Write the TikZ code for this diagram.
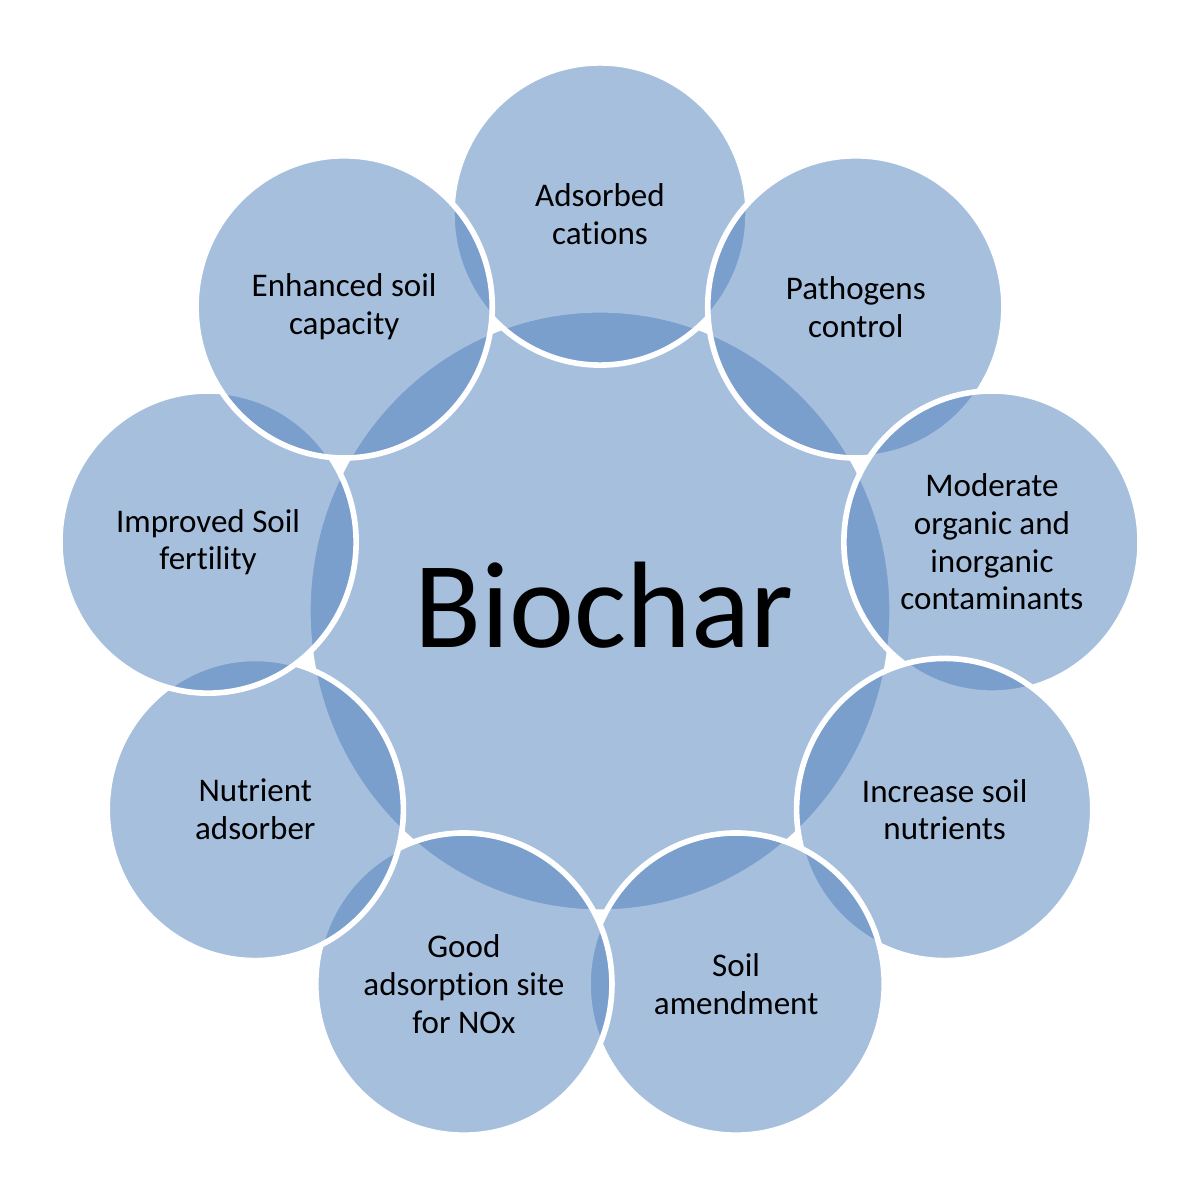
\documentclass[tikz,border=0pt]{standalone}
\usepackage{fontspec}
\setmainfont{Carlito}[Ligatures=NoCommon, RawFeature=-calt, RawFeature=-clig, RawFeature=-liga]
\usetikzlibrary{shapes.geometric}
\definecolor{accblue}{HTML}{4F81BD}
\newcommand{\nolig}{\kern0pt{}}
\tikzset{
  hubbox/.style={ellipse, inner sep=0pt, minimum width=5.84cm, minimum height=6.02cm,
    fill=accblue, fill opacity=0.5, draw=white, draw opacity=1, line width=1.6pt},
  petal/.style={ellipse, inner sep=0pt, minimum width=2.96cm, minimum height=3.02cm,
    fill=accblue, fill opacity=0.5, draw=white, draw opacity=1, line width=1.6pt,
    text opacity=1, text=black, align=center, font=\fontsize{9.4pt}{10.7pt}\selectfont},
  hubtext/.style={text=black, font=\fontsize{35pt}{40pt}\selectfont, inner sep=0pt}
}
\begin{document}
\begin{tikzpicture}[x=0.01cm, y=-0.01cm]
\useasboundingbox (0,0) rectangle (1200,1200);
\fill[white] (0,0) rectangle (1200,1200);
\node[hubbox] (hub) at (600,611) {};
\node[petal] (p1) at ({600+398*cos(90)},{611-397*sin(90)}) {Adsorbed\\cat\nolig ions};
\node[petal] (p2) at ({600+398*cos(50)},{611-397*sin(50)}) {Pathogens\\control};
\node[petal] (p3) at ({600+398*cos(10)},{611-397*sin(10)}) {Moderate\\organic and\\inorganic\\contaminants};
\node[petal] (p4) at ({600+398*cos(-30)},{611-397*sin(-30)}) {Increase soil\\nutrients};
\node[petal] (p5) at ({600+398*cos(-70)},{611-397*sin(-70)}) {Soil\\amendment};
\node[petal] (p6) at ({600+398*cos(-110)},{611-397*sin(-110)}) {Good\\adsorpt\nolig ion site\\for NOx};
\node[petal] (p7) at ({600+398*cos(-150)},{611-397*sin(-150)}) {Nutrient\\adsorber};
\node[petal] (p8) at ({600+398*cos(170)},{611-397*sin(170)}) {Improved Soil\\fert\nolig ility};
\node[petal] (p9) at ({600+398*cos(130)},{611-397*sin(130)}) {Enhanced soil\\capacity};
\node[hubtext, anchor=base] (hublabel) at (604,647) {Biochar};
\end{tikzpicture}
\end{document}
